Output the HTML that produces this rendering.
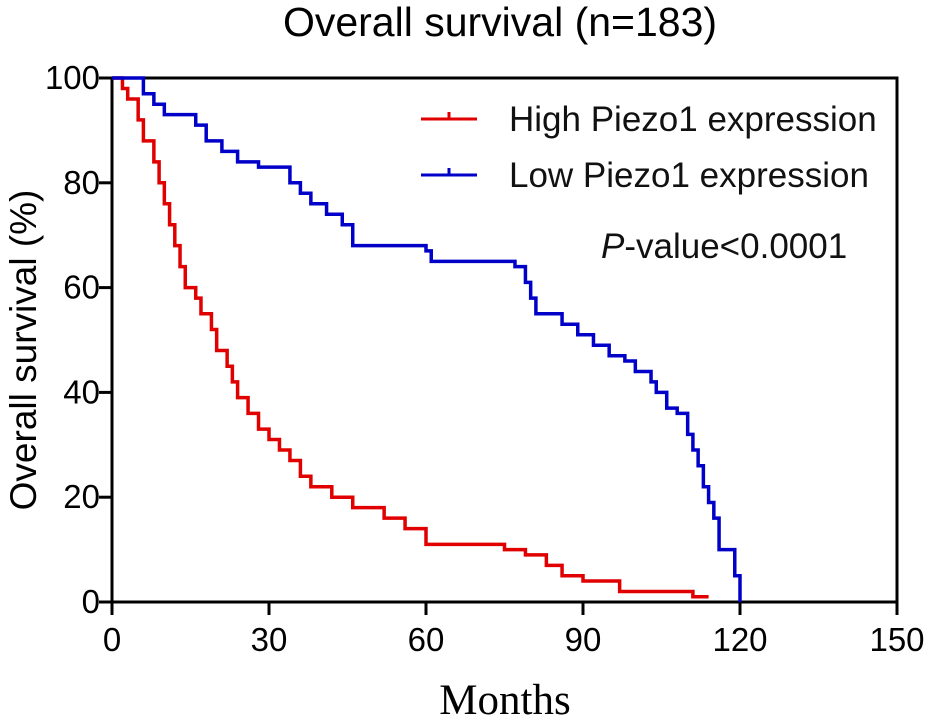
<!DOCTYPE html>
<html><head><meta charset="utf-8"><style>
html,body{margin:0;padding:0;background:#fff;}
svg{display:block;font-family:"Liberation Sans",Arial,sans-serif;}
</style></head><body>
<svg id="chart" width="931" height="725" viewBox="0 0 931 725">
<text x="500" y="36" font-size="41" text-anchor="middle" fill="#000">Overall survival (n=183)</text>
<rect x="112" y="78" width="785" height="524" fill="none" stroke="#000" stroke-width="3"/>
<g id="yticks"></g>
<g id="xticks"></g>
<text transform="translate(36,350) rotate(-90)" font-size="37" text-anchor="middle" fill="#000">Overall survival (%)</text>
<text x="505" y="714" font-size="43" text-anchor="middle" font-family="'Liberation Serif',serif" fill="#000">Months</text>
<g id="series"></g>
<g>
<g>
<line x1="421" y1="119" x2="477" y2="119" stroke="#e00000" stroke-width="3"/>
<line x1="449" y1="112" x2="449" y2="119" stroke="#e00000" stroke-width="3"/>
<text x="509" y="131" font-size="35" fill="#111">High Piezo1 expression</text>
</g>
<g>
<line x1="421" y1="175" x2="477" y2="175" stroke="#0000c8" stroke-width="3"/>
<line x1="449" y1="168" x2="449" y2="175" stroke="#0000c8" stroke-width="3"/>
<text x="509" y="187" font-size="35" fill="#111">Low Piezo1 expression</text>
</g>
</g>
<text x="601" y="258" font-size="35" fill="#111"><tspan font-style="italic">P</tspan>-value&lt;0.0001</text>
</svg>
<script>
const xTicks=[0,30,60,90,120,150];
const yTicks=[0,20,40,60,80,100];
const highTimes=[0,2,3,5,6,8,9,10,11,12,13,14,16,17,19,20,22,23,24,26,28,30,32,34,36,38,42,46,52,56,60,75,79,83,86,90,97,111,114];
const highSurv=[100,98,96,92,88,84,80,76,72,68,64,60,58,55,52,48,45,42,39,36,33,31,29,27,24,22,20,18,16,14,11,10,9,7,5,4,2,1,1];
const lowTimes=[0,4,6,8,10,16,18,21,24,28,34,36,38,41,44,46,55,60,61,77,79,80,81,86,89,92,95,98,100,103,104,106,108,110,111,112,113,114,115,116,118,119,120];
const lowSurv=[100,100,97,95,93,91,88,86,84,83,80,78,76,74,72,68,68,67,65,64,61,58,55,53,51,49,47,46,44,42,40,37,36,32,29,26,22,19,16,10,10,5,0];
const NS="http://www.w3.org/2000/svg";
const X0=112,X1=897,Y0=602,Y1=78;
function sx(v){return X0+(v-0)/(150-0)*(X1-X0);}
function sy(v){return Y0-(v-0)/(100-0)*(Y0-Y1);}
const yg=document.getElementById('yticks');
yTicks.forEach(t=>{
 const l=document.createElementNS(NS,'line');
 l.setAttribute('x1',X0-13);l.setAttribute('x2',X0);l.setAttribute('y1',sy(t));l.setAttribute('y2',sy(t));
 l.setAttribute('stroke','#000');l.setAttribute('stroke-width','3');
 
 
 yg.appendChild(l);
 const tx=document.createElementNS(NS,'text');
 tx.setAttribute('x',X0-12);tx.setAttribute('y',sy(t)+11);tx.setAttribute('font-size','33');tx.setAttribute('text-anchor','end');
 tx.textContent=t;
 
 
 yg.appendChild(tx);
});
const xg=document.getElementById('xticks');
xTicks.forEach(t=>{
 const l=document.createElementNS(NS,'line');
 l.setAttribute('x1',sx(t));l.setAttribute('x2',sx(t));l.setAttribute('y1',Y0);l.setAttribute('y2',Y0+13);
 l.setAttribute('stroke','#000');l.setAttribute('stroke-width','3');
 
 
 xg.appendChild(l);
 const tx=document.createElementNS(NS,'text');
 tx.setAttribute('x',sx(t));tx.setAttribute('y',Y0+49);tx.setAttribute('font-size','33');tx.setAttribute('text-anchor','middle');
 tx.textContent=t;
 
 
 xg.appendChild(tx);
});
function stepPath(ts,ss){
 let d='M'+sx(ts[0])+','+sy(ss[0]);
 for(let i=1;i<ts.length;i++){d+=' H'+sx(ts[i])+' V'+sy(ss[i]);}
 return d;
}
const sg=document.getElementById('series');
[[highTimes,highSurv,'#e00000','high-piezo1-curve'],[lowTimes,lowSurv,'#0000c8','low-piezo1-curve']].forEach(s=>{
 const p=document.createElementNS(NS,'path');
 p.setAttribute('d',stepPath(s[0],s[1]));
 p.setAttribute('fill','none');p.setAttribute('stroke',s[2]);p.setAttribute('stroke-width','3.5');
 
 
 sg.appendChild(p);
});
</script>
</body></html>
